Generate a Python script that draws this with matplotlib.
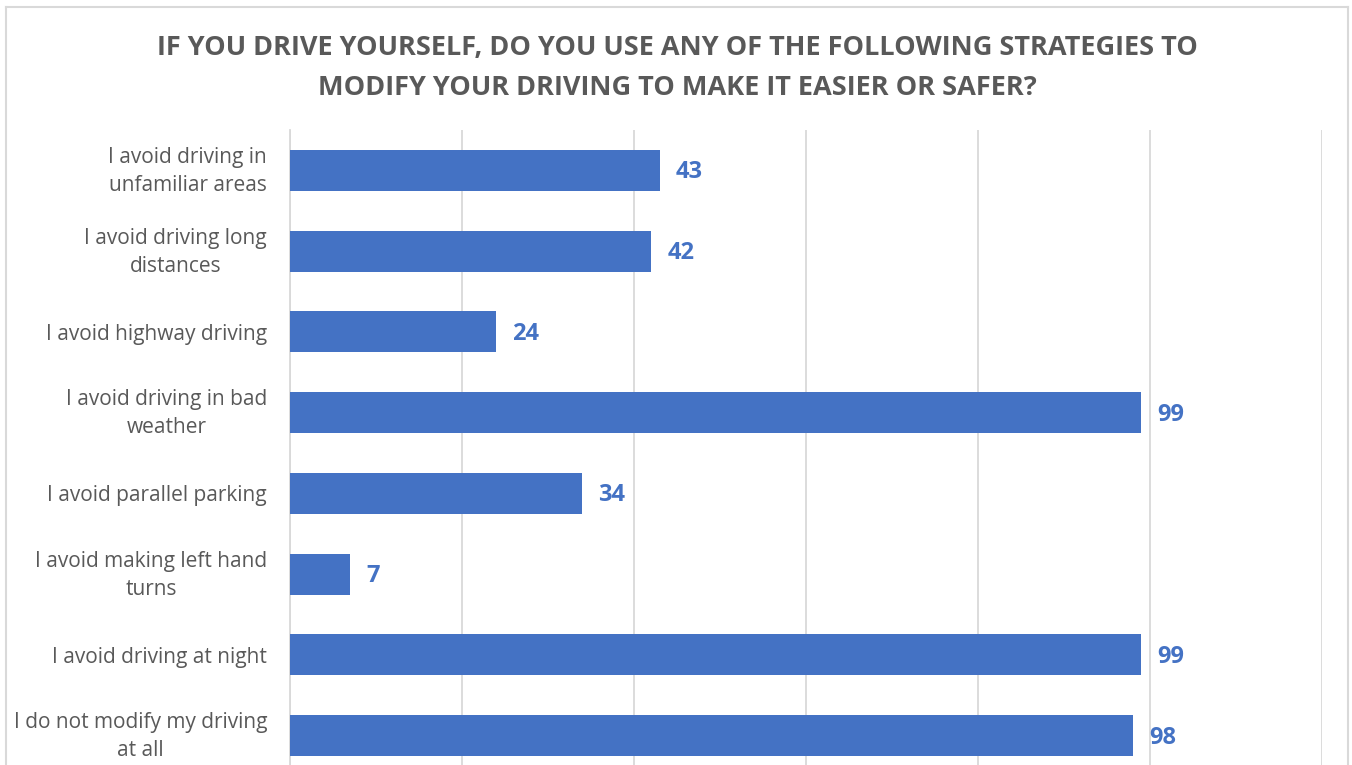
import matplotlib
matplotlib.use("Agg")
import matplotlib.pyplot as plt
import matplotlib.transforms as mtransforms
from matplotlib.lines import Line2D

categories = [
    "I avoid driving in\nunfamiliar areas",
    "I avoid driving long\ndistances",
    "I avoid highway driving",
    "I avoid driving in bad\nweather",
    "I avoid parallel parking",
    "I avoid making left hand\nturns",
    "I avoid driving at night",
    "I do not modify my driving\nat all",
]
values = [43, 42, 24, 99, 34, 7, 99, 98]
title = ("IF YOU DRIVE YOURSELF, DO YOU USE ANY OF THE FOLLOWING STRATEGIES TO\n"
         "MODIFY YOUR DRIVING TO MAKE IT EASIER OR SAFER?")

FONT = "Open Sans"
BAR = "#4472C4"
GRAY = "#595959"

W, H = 1352, 765
fig = plt.figure(figsize=(W / 100, H / 100), dpi=100)
fig.patch.set_facecolor("white")

# figure border (bottom is cut off)
bx0, bx1, by0 = 6 / W, 1348 / W, 1 - 7 / H
for xs, ys in [([bx0, bx0], [0, by0]), ([bx0, bx1], [by0, by0]), ([bx1, bx1], [by0, 0])]:
    fig.add_artist(Line2D(xs, ys, transform=fig.transFigure, color="#D9D9D9", lw=1.5))

left, right = 290 / W, 1322 / W
top = 1 - 130 / H
bottom = 1 - 776 / H
ax = fig.add_axes([left, bottom, right - left, top - bottom])

ypos = list(range(len(categories)))
ax.barh(ypos, values, height=0.51, color=BAR, zorder=3)
ax.set_xlim(0, 120)
ax.set_ylim(len(categories) - 0.5, -0.5)
ax.set_xticks(range(0, 121, 20))
ax.xaxis.grid(True, color="#D9D9D9", lw=1.3, zorder=0)
ax.tick_params(axis="x", labelbottom=False, length=0)
ax.set_yticks(ypos)
labels = ax.set_yticklabels(categories, fontsize=15, color=GRAY, family=FONT, ha="right",
                            multialignment="center", linespacing=1.45)
ax.tick_params(axis="y", length=0, pad=16.5)
shift = mtransforms.ScaledTranslation(0, 3.5 / 72, fig.dpi_scale_trans)
for lab in labels:
    if "\n" in lab.get_text():
        lab.set_transform(lab.get_transform() + shift)
for s in ["top", "right", "bottom"]:
    ax.spines[s].set_visible(False)
ax.spines["left"].set_color("#D9D9D9")
ax.spines["left"].set_linewidth(1.3)

for y, v in zip(ypos, values):
    ax.annotate(str(v), (v, y), xytext=(11.5, -1.5), textcoords="offset points",
                va="center", ha="left", fontsize=17, fontweight="bold",
                color=BAR, family=FONT)

fig.text(0.501, 1 - 68 / H, title, ha="center", va="center", fontsize=19.5,
         fontweight="bold", color=GRAY, family=FONT, linespacing=1.72)

fig.savefig("out.png", dpi=100)
